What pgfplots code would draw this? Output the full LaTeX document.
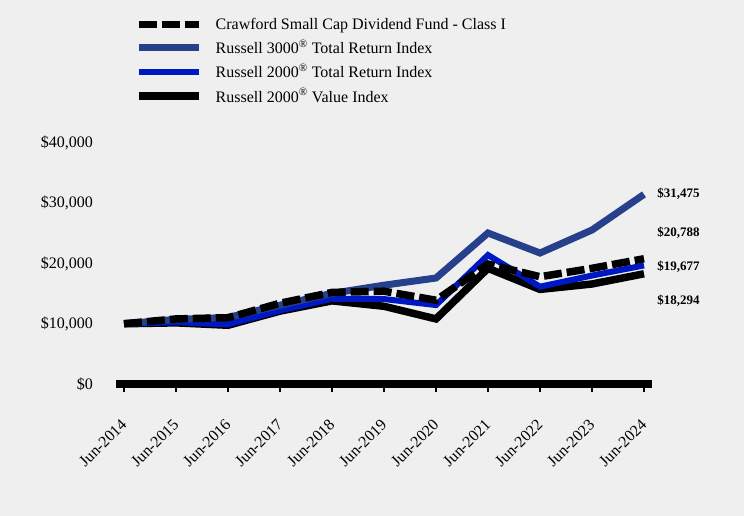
\documentclass[border=0pt]{standalone}
\usepackage{fontspec}
\setmainfont{Liberation Serif}
\usepackage{pgfplots}
\pgfplotsset{compat=1.18}
\definecolor{bg}{HTML}{EFEFEF}
\definecolor{navyline}{HTML}{27408B}
\definecolor{blueline}{HTML}{0018C4}

\begin{document}
\begin{tikzpicture}[x=1pt,y=1pt]
\fill[bg] (0,0) rectangle (744,516);
\begin{axis}[
  at={(116.2pt,132pt)}, anchor=south west,
  scale only axis, width=535.6pt, height=241pt,
  xmin=-0.15, xmax=10.15, ymin=0, ymax=40000,
  clip=false,
  scaled y ticks=false,
  axis x line*=bottom, axis y line*=left,
  x axis line style={line width=8pt,-},
  y axis line style={draw=none},
  ytick style={draw=none},
  xtick style={black, line width=1.5pt},
  major tick length=8pt, tick align=outside,
  xtick={0,...,10},
  xticklabels={Jun-2014,Jun-2015,Jun-2016,Jun-2017,Jun-2018,Jun-2019,Jun-2020,Jun-2021,Jun-2022,Jun-2023,Jun-2024},
  xticklabel style={yshift=-30pt, xshift=0pt, rotate=45, anchor=east, inner sep=0pt},
  ytick={0,10000,20000,30000,40000},
  yticklabels={{\$0},{\$10,000},{\$20,000},{\$30,000},{\$40,000}},
  yticklabel style={inner sep=0pt, xshift=-15pt},
  tick label style={font=\fontsize{16}{19}\selectfont},
  reverse legend,
  legend image code/.code={\draw[#1] (0pt,0pt) -- (60pt,0pt); \path (71pt,0pt);},
  legend style={at={(0.0351,1.527)}, anchor=north west, draw=none, fill=none,
    font=\fontsize{16}{19}\selectfont, inner sep=0pt, row sep=5pt},
  legend cell align=left,
]
% Russell 2000 Value Index
\addplot[black, line width=7.5pt] coordinates {
  (0,10000) (1,10150) (2,9750) (3,12100) (4,13800) (5,12900)
  (6,10800) (7,19200) (8,15700) (9,16600) (10,18294)
};
% Russell 2000 Total Return Index
\addplot[blueline, line width=6pt] coordinates {
  (0,10000) (1,10250) (2,9900) (3,12200) (4,14150) (5,14100)
  (6,13100) (7,21400) (8,16150) (9,18000) (10,19677)
};
% Russell 3000 Total Return Index
\addplot[navyline, line width=7pt] coordinates {
  (0,10000) (1,10730) (2,11040) (3,13080) (4,15040) (5,16400)
  (6,17590) (7,25060) (8,21740) (9,25560) (10,31475)
};
% Fund
\addplot[black, line width=7.5pt, dash pattern=on 18pt off 5pt] coordinates {
  (0,10000) (1,10800) (2,11000) (3,13400) (4,15200) (5,15400)
  (6,13900) (7,19900) (8,17800) (9,19200) (10,20788)
};
\legend{Russell 2000\textsuperscript{\textregistered} Value Index,
  Russell 2000\textsuperscript{\textregistered} Total Return Index,
  Russell 3000\textsuperscript{\textregistered} Total Return Index,
  Crawford Small Cap Dividend Fund - Class I}
\begin{scope}[every node/.style={anchor=west, font=\bfseries\fontsize{13}{15}\selectfont}]
\node at (axis cs:10.19,31540) {\$31,475};
\node at (axis cs:10.19,25060) {\$20,788};
\node at (axis cs:10.19,19420) {\$19,677};
\node at (axis cs:10.19,13780) {\$18,294};
\end{scope}
\end{axis}
\end{tikzpicture}
\end{document}
